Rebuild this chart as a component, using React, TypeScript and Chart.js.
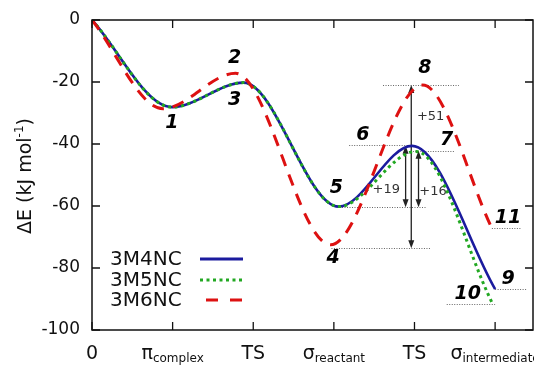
import React, { useEffect, useRef } from 'react';
import { Chart, registerables } from 'chart.js';

Chart.register(...registerables);

// ---- data ----
const seriesNames = ['3M4NC', '3M5NC', '3M6NC'];
const x3M4NC = [0, 0.99, 1.88, 3.06, 3.97, 5.0];
const y3M4NC = [0, -28.1, -20.2, -60.2, -40.6, -86.8];
const x3M5NC = [0, 0.99, 1.88, 3.06, 4.02, 4.97];
const y3M5NC = [0, -28.1, -20.2, -60.2, -42.4, -91.6];
const x3M6NC = [0, 0.88, 1.78, 2.96, 4.1, 4.96];
const y3M6NC = [0, -28.6, -17.2, -72.5, -21.0, -67.2];

const xTickValues = [0, 1, 2, 3, 4, 5];
const xTickMain = ['0', 'π', 'TS', 'σ', 'TS', 'σ'];
const xTickSub = ['', 'complex', '', 'reactant', '', 'intermediate'];
const yTickValues = [0, -20, -40, -60, -80, -100];

const pointLabels = ['1', '2', '3', '4', '5', '6', '7', '8', '9', '10', '11'];
const pointLabelX = [0.99, 1.77, 1.77, 2.99, 3.03, 3.36, 4.4, 4.13, 5.16, 4.66, 5.16];
const pointLabelY = [-33.2, -12.3, -25.8, -76.8, -54.2, -37.1, -38.7, -15.5, -83.5, -88.4, -63.9];

const refLineY = [-21.0, -40.3, -42.2, -60.4, -73.6, -67.1, -86.8, -91.6];
const refLineX0 = [3.61, 3.19, 3.98, 3.07, 2.97, 4.96, 5.0, 4.4];
const refLineX1 = [4.55, 3.98, 4.5, 4.15, 4.21, 5.33, 5.39, 5.0];

const arrowX = [3.96, 3.89, 4.05];
const arrowY0 = [-73.6, -60.4, -60.4];
const arrowY1 = [-21.0, -40.6, -42.2];
const arrowText = ['+51', '+19', '+16'];
const arrowTextX = [4.2, 3.65, 4.23];
const arrowTextY = [-31.2, -54.8, -55.5];

const BLUE = '#1b1b9e';
const GREEN = '#22a822';
const RED = '#dd1111';
const FONT = '"DejaVu Sans", sans-serif';

function toPts(xs: number[], ys: number[]) {
  return xs.map((x, i) => ({ x, y: ys[i] }));
}

const overlay = {
  id: 'overlay',
  beforeDatasetsDraw(chart: any) {
    const ctx = chart.ctx;
    const xs = chart.scales.x;
    const ys = chart.scales.y;
    ctx.save();
    // dotted reference lines
    ctx.strokeStyle = '#666';
    ctx.lineWidth = 1;
    ctx.setLineDash([1, 1.5]);
    refLineY.forEach((yv, i) => {
      const py = Math.round(ys.getPixelForValue(yv)) + 0.5;
      ctx.beginPath();
      ctx.moveTo(xs.getPixelForValue(refLineX0[i]), py);
      ctx.lineTo(xs.getPixelForValue(refLineX1[i]), py);
      ctx.stroke();
    });
    ctx.setLineDash([]);
    // arrows
    ctx.strokeStyle = '#222';
    ctx.fillStyle = '#222';
    ctx.lineWidth = 1.3;
    const head = (px: number, py: number, dir: number) => {
      ctx.beginPath();
      ctx.moveTo(px, py);
      ctx.lineTo(px - 3, py + dir * 8);
      ctx.lineTo(px + 3, py + dir * 8);
      ctx.closePath();
      ctx.fill();
    };
    arrowX.forEach((xv, i) => {
      const px = xs.getPixelForValue(xv);
      const p0 = ys.getPixelForValue(arrowY0[i]);
      const p1 = ys.getPixelForValue(arrowY1[i]);
      ctx.beginPath();
      ctx.moveTo(px, p0 - 4);
      ctx.lineTo(px, p1 + 4);
      ctx.stroke();
      head(px, p1, 1);
      head(px, p0, -1);
    });
    ctx.font = `13px ${FONT}`;
    ctx.fillStyle = '#333';
    ctx.textAlign = 'center';
    ctx.textBaseline = 'middle';
    arrowText.forEach((t, i) => {
      ctx.fillText(t, xs.getPixelForValue(arrowTextX[i]), ys.getPixelForValue(arrowTextY[i]));
    });
    ctx.restore();
  },
  afterDraw(chart: any) {
    const ctx = chart.ctx;
    const xs = chart.scales.x;
    const ys = chart.scales.y;
    const a = chart.chartArea;
    ctx.save();
    // frame
    ctx.strokeStyle = '#111';
    ctx.lineWidth = 1.5;
    ctx.strokeRect(a.left, a.top, a.right - a.left, a.bottom - a.top);
    ctx.lineWidth = 1.3;
    ctx.beginPath();
    xTickValues.forEach((v) => {
      const px = xs.getPixelForValue(v);
      ctx.moveTo(px, a.bottom);
      ctx.lineTo(px, a.bottom - 8);
      ctx.moveTo(px, a.top);
      ctx.lineTo(px, a.top + 8);
    });
    yTickValues.forEach((v) => {
      const py = ys.getPixelForValue(v);
      ctx.moveTo(a.left, py);
      ctx.lineTo(a.left + 8, py);
      ctx.moveTo(a.right, py);
      ctx.lineTo(a.right - 8, py);
    });
    ctx.stroke();

    // x tick labels with subscripts
    ctx.fillStyle = '#111';
    ctx.textBaseline = 'alphabetic';
    ctx.textAlign = 'left';
    xTickValues.forEach((v, i) => {
      const px = xs.getPixelForValue(v);
      ctx.font = `19px ${FONT}`;
      const wm = ctx.measureText(xTickMain[i]).width;
      ctx.font = `12px ${FONT}`;
      const wsub = xTickSub[i] ? ctx.measureText(xTickSub[i]).width : 0;
      const x0 = px - (wm + wsub) / 2;
      ctx.font = `19px ${FONT}`;
      ctx.fillText(xTickMain[i], x0, 359);
      if (xTickSub[i]) {
        ctx.font = `12px ${FONT}`;
        ctx.fillText(xTickSub[i], x0 + wm, 362);
      }
    });

    // y axis title
    ctx.save();
    ctx.translate(31, 176);
    ctx.rotate(-Math.PI / 2);
    const t1 = 'ΔE (kJ mol';
    const t2 = '-1';
    const t3 = ')';
    ctx.font = `19px ${FONT}`;
    const w1 = ctx.measureText(t1).width;
    const w3 = ctx.measureText(t3).width;
    ctx.font = `12px ${FONT}`;
    const w2 = ctx.measureText(t2).width;
    let cx = -(w1 + w2 + w3) / 2;
    ctx.font = `19px ${FONT}`;
    ctx.fillText(t1, cx, 0);
    cx += w1;
    ctx.font = `12px ${FONT}`;
    ctx.fillText(t2, cx, -8);
    cx += w2;
    ctx.font = `19px ${FONT}`;
    ctx.fillText(t3, cx, 0);
    ctx.restore();

    // point labels
    ctx.font = `italic bold 19px ${FONT}`;
    ctx.textAlign = 'center';
    ctx.textBaseline = 'middle';
    ctx.fillStyle = '#000';
    pointLabels.forEach((t, i) => {
      ctx.fillText(t, xs.getPixelForValue(pointLabelX[i]), ys.getPixelForValue(pointLabelY[i]));
    });

    // legend
    const colors = [BLUE, GREEN, RED];
    const dashes = [[], [3, 3.5], [12, 12]];
    const rowY = [259, 280, 300];
    seriesNames.forEach((n, i) => {
      ctx.font = `20px ${FONT}`;
      ctx.textAlign = 'left';
      ctx.fillStyle = '#111';
      ctx.fillText(n, 110, rowY[i] + 1);
      ctx.strokeStyle = colors[i];
      ctx.lineWidth = 3;
      ctx.setLineDash(dashes[i]);
      ctx.lineDashOffset = i === 2 ? -6 : 0;
      ctx.beginPath();
      ctx.moveTo(200, rowY[i]);
      ctx.lineTo(243, rowY[i]);
      ctx.stroke();
    });
    ctx.setLineDash([]);
    ctx.restore();
  },
};

export default function App() {
  const ref = useRef<HTMLCanvasElement | null>(null);
  useEffect(() => {
    if (!ref.current) return;
    const chart = new Chart(ref.current, {
      type: 'line',
      data: {
        datasets: [
          {
            label: seriesNames[2],
            data: toPts(x3M6NC, y3M6NC),
            borderColor: RED,
            borderWidth: 3,
            borderDash: [12, 9],
            pointRadius: 0,
            cubicInterpolationMode: 'monotone',
            order: 0,
          },
          {
            label: seriesNames[1],
            data: toPts(x3M5NC, y3M5NC),
            borderColor: GREEN,
            borderWidth: 3,
            borderDash: [3, 3.5],
            pointRadius: 0,
            cubicInterpolationMode: 'monotone',
            order: 1,
          },
          {
            label: seriesNames[0],
            data: toPts(x3M4NC, y3M4NC),
            borderColor: BLUE,
            borderWidth: 2.6,
            pointRadius: 0,
            cubicInterpolationMode: 'monotone',
            order: 2,
          },
        ],
      },
      options: {
        responsive: false,
        animation: false,
        layout: { padding: { top: 20, right: 1, left: 0, bottom: 0 } },
        plugins: { legend: { display: false }, tooltip: { enabled: false } },
        scales: {
          x: {
            type: 'linear',
            min: 0,
            max: 5.47,
            grid: { display: false },
            border: { display: false },
            ticks: { display: false },
            afterFit: (s: any) => {
              s.height = 35;
            },
          },
          y: {
            type: 'linear',
            min: -100,
            max: 0,
            grid: { display: false },
            border: { display: false },
            afterBuildTicks: (s: any) => {
              s.ticks = yTickValues.map((v) => ({ value: v }));
            },
            ticks: {
              color: '#111',
              padding: 4,
              font: { family: 'DejaVu Sans', size: 17 },
              callback: (v: any) => String(v),
            },
            afterFit: (s: any) => {
              s.width = 92;
            },
          },
        },
      },
      plugins: [overlay],
    });
    return () => chart.destroy();
  }, []);
  return (
    <div style={{ position: 'fixed', left: 0, top: 0, width: 534, height: 365, background: '#fff' }}>
      <canvas ref={ref} width={534} height={365} style={{ display: 'block' }} />
    </div>
  );
}
